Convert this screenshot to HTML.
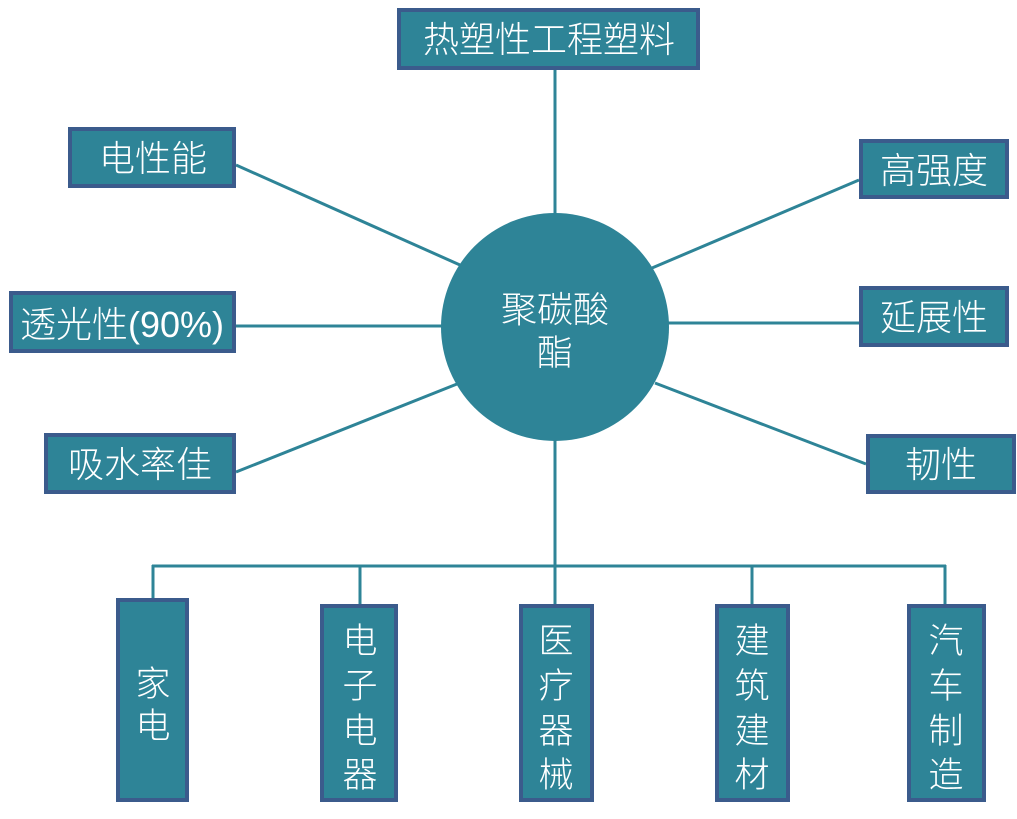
<!DOCTYPE html>
<html><head><meta charset="utf-8"><style>
html,body{margin:0;padding:0;background:#fff;}
svg text{font-family:"Liberation Sans","Noto Sans CJK SC",sans-serif;fill:#fff;font-weight:300;}
</style></head><body>
<svg width="1017" height="814" viewBox="0 0 1017 814" xmlns="http://www.w3.org/2000/svg">
<g stroke="#2e8497" stroke-width="3" fill="none">
<line x1="555" y1="70" x2="555" y2="214"/>
<line x1="236" y1="165" x2="460" y2="265"/>
<line x1="859" y1="180" x2="652" y2="268"/>
<line x1="236" y1="326" x2="442" y2="326"/>
<line x1="668" y1="323" x2="859" y2="323"/>
<line x1="236" y1="472" x2="457" y2="384"/>
<line x1="655" y1="383" x2="866" y2="464"/>
<line x1="555" y1="440" x2="555" y2="566"/>
<line x1="152" y1="566" x2="946" y2="566"/>
<line x1="153" y1="565" x2="153" y2="600"/>
<line x1="360" y1="565" x2="360" y2="606"/>
<line x1="555" y1="565" x2="555" y2="606"/>
<line x1="752" y1="565" x2="752" y2="606"/>
<line x1="945" y1="565" x2="945" y2="606"/>
</g>
<circle cx="555" cy="327" r="114" fill="#2e8497"/>
<text x="555" y="322" font-size="36" text-anchor="middle">聚碳酸</text>
<text x="555" y="365" font-size="36" text-anchor="middle">酯</text>
<g fill="#2e8497" stroke="#3b5b8c" stroke-width="4">
<rect x="399" y="10" width="299" height="58"/>
<rect x="70" y="129" width="164" height="57"/>
<rect x="861" y="141" width="146" height="56"/>
<rect x="11" y="293" width="223" height="58"/>
<rect x="861" y="288" width="146" height="57"/>
<rect x="46" y="435" width="188" height="57"/>
<rect x="868" y="436" width="146" height="56"/>
<rect x="118" y="600" width="69" height="200"/>
<rect x="322" y="606" width="74" height="194"/>
<rect x="521" y="606" width="71" height="194"/>
<rect x="717" y="606" width="71" height="194"/>
<rect x="909" y="606" width="75" height="194"/>
</g>
<g font-size="36" text-anchor="middle">
<text x="549" y="52">热塑性工程塑料</text>
<text x="153" y="171">电性能</text>
<text x="934" y="183">高强度</text>
<text x="122" y="337">透光性(90%)</text>
<text x="934" y="330">延展性</text>
<text x="140" y="477">吸水率佳</text>
<text x="941" y="477">韧性</text>
</g>
<g font-size="35" text-anchor="middle">
<text x="153" y="696">家</text><text x="153" y="738">电</text>
<text x="360" y="653">电</text><text x="360" y="698">子</text><text x="360" y="743">电</text><text x="360" y="787">器</text>
<text x="556" y="653">医</text><text x="556" y="698">疗</text><text x="556" y="743">器</text><text x="556" y="787">械</text>
<text x="752" y="653">建</text><text x="752" y="698">筑</text><text x="752" y="743">建</text><text x="752" y="787">材</text>
<text x="946" y="653">汽</text><text x="946" y="698">车</text><text x="946" y="743">制</text><text x="946" y="787">造</text>
</g>
</svg>
</body></html>
